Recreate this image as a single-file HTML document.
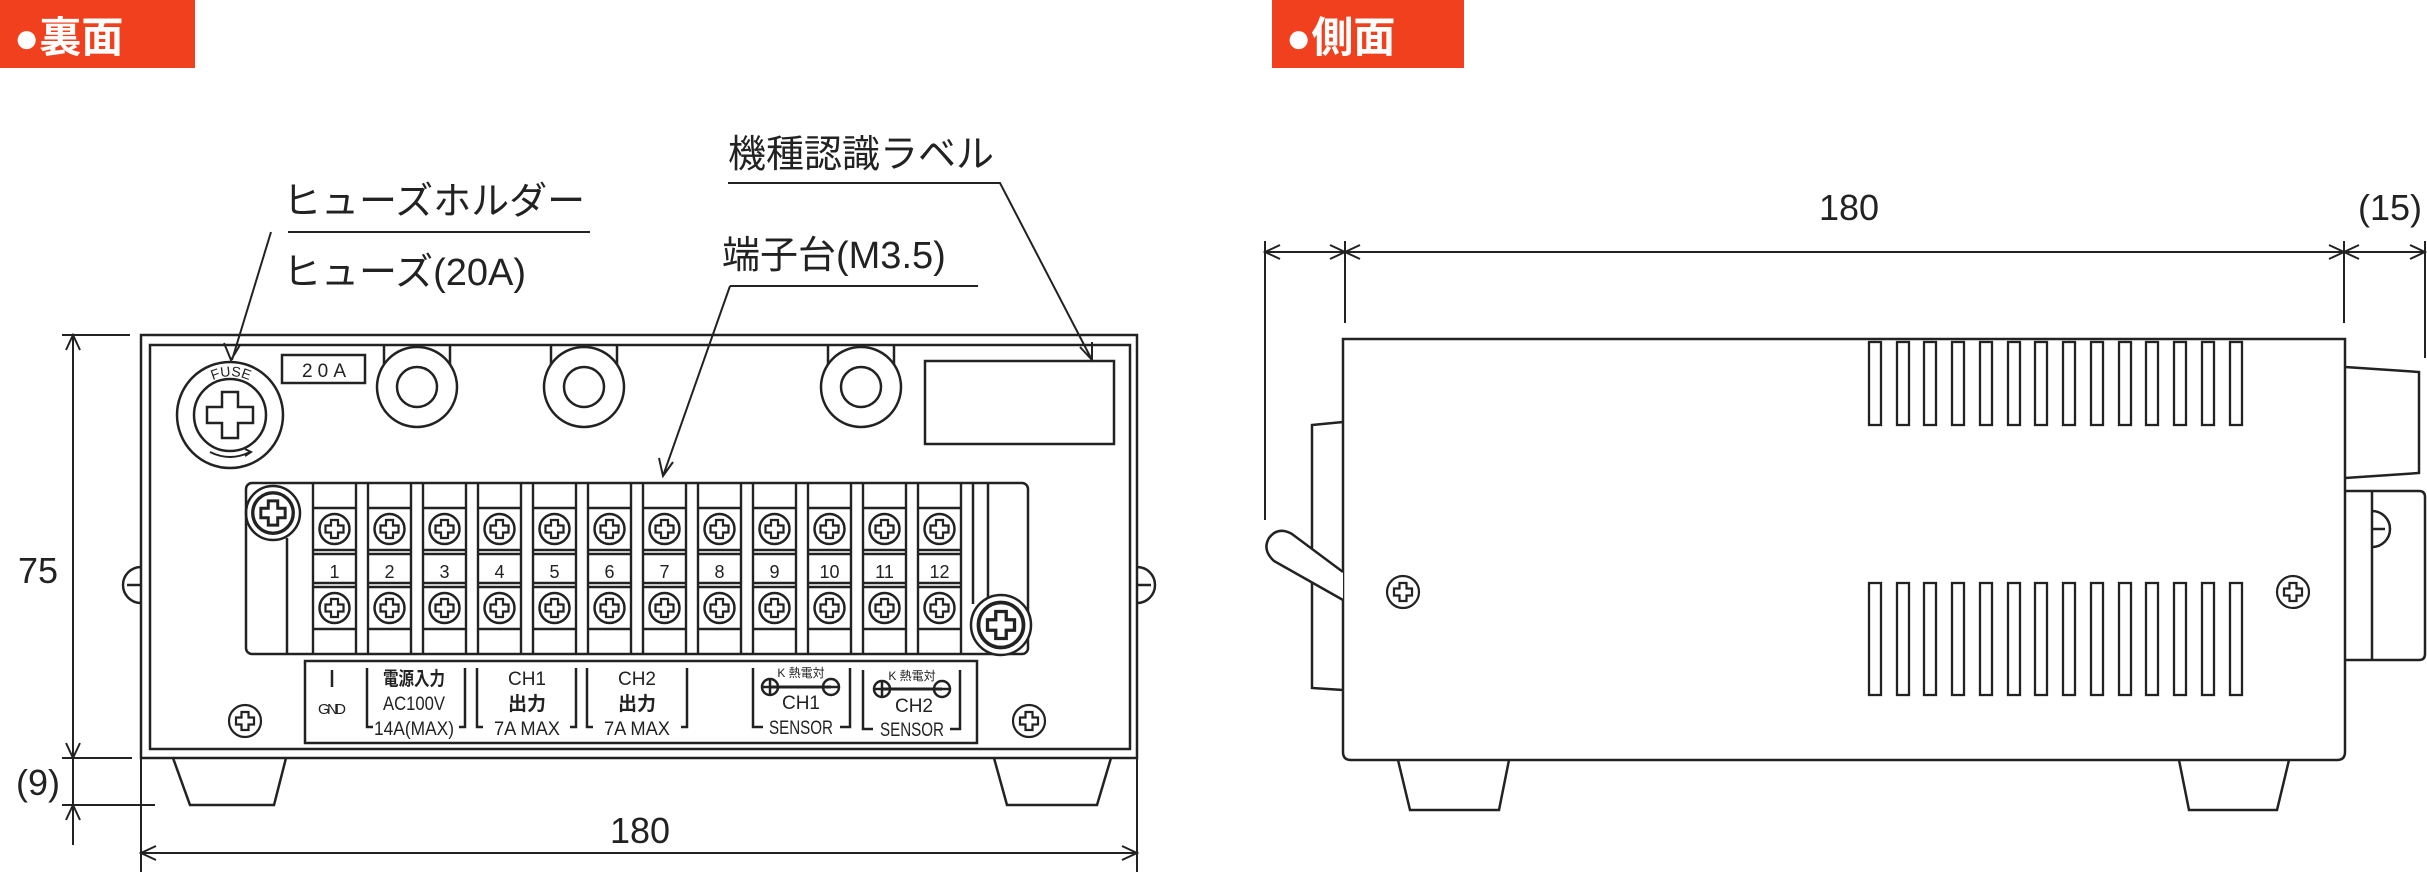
<!DOCTYPE html>
<html><head><meta charset="utf-8"><style>
html,body{margin:0;padding:0;background:#fff;}
svg{display:block;}
text{font-family:"Liberation Sans","Noto Sans CJK JP",sans-serif;fill:#222;}
</style></head><body>
<svg width="2427" height="873" viewBox="0 0 2427 873" xmlns="http://www.w3.org/2000/svg">
<defs>
<path id="plus" d="M-3.5,-9 h7 v5.5 h5.5 v7 h-5.5 v5.5 h-7 v-5.5 h-5.5 v-7 h5.5z" fill="none" stroke="#222" stroke-width="2.2"/>
<g id="screw"><circle r="15" fill="none" stroke="#222" stroke-width="2.5"/><use href="#plus"/></g>
<g id="sscrew"><circle r="16" fill="none" stroke="#222" stroke-width="2.2"/><use href="#plus"/></g>
<g id="col" fill="none" stroke="#222" stroke-width="2.4">
<path d="M0,483 V654 M43,483 V654 M0,508 H43 M0,550 H43 M0,554 H43 M0,583 H43 M0,587 H43 M0,629 H43"/>
<use href="#screw" x="21.5" y="529"/>
<use href="#screw" x="21.5" y="608"/>
</g>
<path id="fusearc" d="M196,395 A42,42 0 0 1 266,395" fill="none"/>
</defs>

<!-- badges -->
<rect x="0" y="0" width="195" height="68" fill="#f0401e"/>
<text x="14" y="52" font-size="42" font-weight="bold" style="fill:#fff">●裏面</text>
<rect x="1272" y="0" width="192" height="68" fill="#f0401e"/>
<text x="1286" y="52" font-size="42" font-weight="bold" style="fill:#fff">●側面</text>

<g fill="none" stroke="#222" stroke-width="2.5">
<rect x="141" y="335" width="996" height="423"/>
<rect x="150" y="345" width="980" height="404"/>
<path d="M141,567 A17,17 0 0 0 141,603 M127,585 H141"/>
<path d="M1137,567 A17,17 0 0 1 1137,603 M1137,585 H1151"/>
<path d="M173,758 L190,805 H274 L286,758"/>
<path d="M994,758 L1007,805 H1097 L1111,758"/>
<circle cx="230" cy="415" r="53"/>
<circle cx="230" cy="415" r="36"/>
<path d="M222,392 h16 v15 h15 v16 h-15 v15 h-16 v-15 h-15 v-16 h15z"/>
<path d="M210,452 Q230,462 250,452" stroke-width="2"/>
<path d="M245,449 L251,452 L245,456" stroke-width="2"/>
<rect x="282" y="355" width="83" height="28"/>
<path d="M384,346 V372 M450,346 V372"/>
<circle cx="417" cy="387" r="40" fill="#fff"/><circle cx="417" cy="387" r="20"/>
<path d="M551,346 V372 M617,346 V372"/>
<circle cx="584" cy="387" r="40" fill="#fff"/><circle cx="584" cy="387" r="20"/>
<path d="M828,346 V372 M894,346 V372"/>
<circle cx="861" cy="387" r="40" fill="#fff"/><circle cx="861" cy="387" r="20"/>
<rect x="925" y="361" width="189" height="83"/>
<rect x="246" y="483" width="782" height="171" rx="6"/>
<circle cx="273" cy="513" r="27"/>
<path d="M287,538 V654"/>
<path d="M973,483 V604 M988,483 V598"/>
<circle cx="1001" cy="625" r="30" fill="#fff"/>
<rect x="305" y="661" width="672" height="82"/>
<path d="M332,670 V687"/>
<path d="M367,668 V727 H373 M459,727 H465 V668"/>
<path d="M477,668 V727 H483 M570,727 H576 V668"/>
<path d="M587,668 V727 H593 M681,727 H687 V668"/>
<path d="M753,668 V727 H763 M840,727 H850 V668"/>
<path d="M863,670 V729 H873 M950,729 H960 V670"/>
<path d="M770,687 H831 M882,689 H942" stroke-width="3"/>
<circle cx="770" cy="687" r="8"/><path d="M762,687 H778 M770,679 V695"/>
<circle cx="831" cy="687" r="8"/><path d="M823,687 H839"/>
<circle cx="882" cy="689" r="8"/><path d="M874,689 H890 M882,681 V697"/>
<circle cx="942" cy="689" r="8"/><path d="M934,689 H950"/>
</g>
<use href="#screw" transform="translate(273,513) scale(1.35)"/>
<use href="#screw" transform="translate(1001,625) scale(1.5)"/>
<use href="#sscrew" x="245" y="721"/>
<use href="#sscrew" x="1029" y="721"/>
<use href="#col" x="313"/><use href="#col" x="368"/><use href="#col" x="423"/><use href="#col" x="478"/>
<use href="#col" x="533"/><use href="#col" x="588"/><use href="#col" x="643"/><use href="#col" x="698"/>
<use href="#col" x="753"/><use href="#col" x="808"/><use href="#col" x="863"/><use href="#col" x="918"/>
<g font-size="18" text-anchor="middle">
<text x="334.5" y="578">1</text><text x="389.5" y="578">2</text><text x="444.5" y="578">3</text><text x="499.5" y="578">4</text>
<text x="554.5" y="578">5</text><text x="609.5" y="578">6</text><text x="664.5" y="578">7</text><text x="719.5" y="578">8</text>
<text x="774.5" y="578">9</text><text x="829.5" y="578">10</text><text x="884.5" y="578">11</text><text x="939.5" y="578">12</text>
</g>
<text font-size="14"><textPath href="#fusearc" startOffset="50%" text-anchor="middle">FUSE</textPath></text>
<text x="302" y="377" font-size="19" textLength="44" lengthAdjust="spacing">20A</text>
<g font-size="19" text-anchor="middle">
<text x="332" y="714" font-size="15" textLength="28" lengthAdjust="spacing">GND</text>
<text x="414" y="685" font-weight="bold" textLength="62" lengthAdjust="spacingAndGlyphs">電源入力</text>
<text x="414" y="710" textLength="62" lengthAdjust="spacingAndGlyphs">AC100V</text>
<text x="414" y="735" textLength="80" lengthAdjust="spacingAndGlyphs">14A(MAX)</text>
<text x="527" y="685">CH1</text><text x="527" y="710" font-weight="bold">出力</text><text x="527" y="735" textLength="66" lengthAdjust="spacingAndGlyphs">7A MAX</text>
<text x="637" y="685">CH2</text><text x="637" y="710" font-weight="bold">出力</text><text x="637" y="735" textLength="66" lengthAdjust="spacingAndGlyphs">7A MAX</text>
<text x="801" y="677" font-size="12">K 熱電対</text><text x="801" y="709">CH1</text><text x="801" y="734" textLength="64" lengthAdjust="spacingAndGlyphs">SENSOR</text>
<text x="912" y="680" font-size="12">K 熱電対</text><text x="914" y="712">CH2</text><text x="912" y="736" textLength="64" lengthAdjust="spacingAndGlyphs">SENSOR</text>
</g>

<g font-size="38">
<text x="283" y="214">ヒューズホルダー</text>
<text x="283" y="285">ヒューズ(20A)</text>
<text x="728" y="167">機種認識ラベル</text>
<text x="722" y="268">端子台(M3.5)</text>
</g>
<g fill="none" stroke="#222" stroke-width="2">
<path d="M288,232 H590 M271,232 L232,360 M224,343 L231,360 L240,345"/>
<path d="M728,183 H1000 L1092,360 M1080,347 L1092,360 L1092,342"/>
<path d="M730,286 H978 M730,286 L663,476 M659,458 L663,476 L673,462"/>
<path d="M73,335 V805 M62,335 H130 M62,758 H132 M62,805 H155"/>
<path d="M66,350 L73,335 L80,350 M66,743 L73,758 L80,743 M66,820 L73,805 L80,820 M73,805 V845"/>
<path d="M141,758 V872 M1137,758 V872 M141,853 H1137 M156,846 L141,853 L156,860 M1122,846 L1137,853 L1122,860"/>
</g>
<text x="38" y="583" font-size="36" text-anchor="middle">75</text>
<text x="38" y="795" font-size="36" text-anchor="middle">(9)</text>
<text x="640" y="843" font-size="36" text-anchor="middle">180</text>

<g fill="none" stroke="#222" stroke-width="2.5">
<path d="M1343,339 H2345 V752 Q2345,760 2337,760 H1351 Q1343,760 1343,752 Z"/>
<path d="M1398,760 L1410,810 H1499 L1509,760"/>
<path d="M2179,760 L2189,810 H2277 L2289,760"/>
<path d="M1343,422 L1312,425 V688 L1343,690"/>
<path d="M1343,572 L1292,534 Q1278,526 1269,538 Q1262,550 1274,561 L1343,600" fill="#fff"/>
<path d="M2345,367 L2419,372 V473 L2345,478"/>
<path d="M2345,491 H2419 Q2425,491 2425,497 V654 Q2425,660 2419,660 H2345 M2372,491 V660"/>
<path d="M2372,511 A18,18 0 0 1 2372,547 M2372,529 H2385"/>
</g>
<use href="#sscrew" x="1403" y="592"/>
<use href="#sscrew" x="2293" y="592"/>
<g fill="none" stroke="#222" stroke-width="2.3">
<rect x="1869" y="342" width="12" height="83"/><rect x="1897" y="342" width="12" height="83"/><rect x="1924" y="342" width="12" height="83"/><rect x="1952" y="342" width="12" height="83"/>
<rect x="1980" y="342" width="12" height="83"/><rect x="2008" y="342" width="12" height="83"/><rect x="2035" y="342" width="12" height="83"/><rect x="2063" y="342" width="12" height="83"/>
<rect x="2091" y="342" width="12" height="83"/><rect x="2119" y="342" width="12" height="83"/><rect x="2146" y="342" width="12" height="83"/><rect x="2174" y="342" width="12" height="83"/>
<rect x="2202" y="342" width="12" height="83"/><rect x="2230" y="342" width="12" height="83"/>
<rect x="1869" y="583" width="12" height="112"/><rect x="1897" y="583" width="12" height="112"/><rect x="1924" y="583" width="12" height="112"/><rect x="1952" y="583" width="12" height="112"/>
<rect x="1980" y="583" width="12" height="112"/><rect x="2008" y="583" width="12" height="112"/><rect x="2035" y="583" width="12" height="112"/><rect x="2063" y="583" width="12" height="112"/>
<rect x="2091" y="583" width="12" height="112"/><rect x="2119" y="583" width="12" height="112"/><rect x="2146" y="583" width="12" height="112"/><rect x="2174" y="583" width="12" height="112"/>
<rect x="2202" y="583" width="12" height="112"/><rect x="2230" y="583" width="12" height="112"/>
</g>
<g fill="none" stroke="#222" stroke-width="2">
<path d="M1265,241 V520 M1345,241 V323 M2344,241 V323 M2425,241 V358"/>
<path d="M1265,252 H2425"/>
<path d="M1280,245 L1265,252 L1280,259 M1330,245 L1345,252 L1330,259 M1360,245 L1345,252 L1360,259"/>
<path d="M2329,245 L2344,252 L2329,259 M2359,245 L2344,252 L2359,259 M2410,245 L2425,252 L2410,259"/>
</g>
<text x="1849" y="220" font-size="36" text-anchor="middle">180</text>
<text x="2390" y="220" font-size="36" text-anchor="middle">(15)</text>
</svg>
</body></html>
